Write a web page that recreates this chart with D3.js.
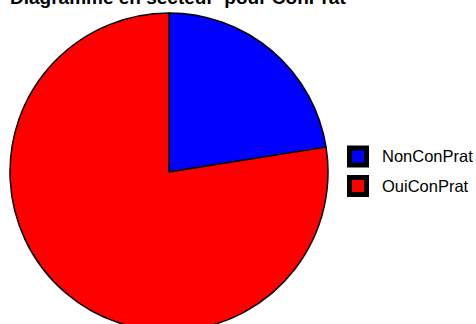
<!DOCTYPE html>
<html><head><meta charset="utf-8">
<script src="https://cdn.jsdelivr.net/npm/d3@7"></script>
<style>body{margin:0;background:#fff}svg{display:block}</style>
</head><body>
<script>
const categories = ["NonConPrat", "OuiConPrat"];
const values = [0.225, 0.775];
const colors = ["#0000ff", "#ff0000"];
const title = "Diagramme en secteur  pour ConPrat";

const W = 476, H = 324;
const svg = d3.select("body").append("svg").attr("width", W).attr("height", H);

svg.append("text").attr("x", 10).attr("y", 4)
  .attr("font-family", "Liberation Sans, Arial, sans-serif")
  .attr("font-weight", "bold").attr("font-size", 19).attr("fill", "#000")
  .style("white-space", "pre")
  .text(title);

const cx = 169, cy = 172, r = 159;
const pie = d3.pie().sort(null).value(d => d)(values);
const arc = d3.arc().innerRadius(0).outerRadius(r);
const g = svg.append("g").attr("transform", `translate(${cx},${cy})`);
g.selectAll("path").data(pie).join("path")
  .attr("d", arc).attr("fill", (d, i) => colors[i])
  .attr("stroke", "#000").attr("stroke-width", 1.5).attr("stroke-linejoin", "round");

const lg = svg.append("g");
const y = d3.scalePoint().domain(categories).range([156.5, 186]);
categories.forEach((c, i) => {
  const yy = y(c);
  lg.append("rect").attr("x", 349.5).attr("y", yy - 8.5).attr("width", 17).attr("height", 17)
    .attr("fill", colors[i]).attr("stroke", "#000").attr("stroke-width", 5);
  lg.append("text").attr("x", 382).attr("y", yy).attr("dy", "0.35em")
    .attr("font-family", "Liberation Sans, Arial, sans-serif").attr("font-size", 16.5)
    .attr("fill", "#000").text(c);
});
</script>
</body></html>
